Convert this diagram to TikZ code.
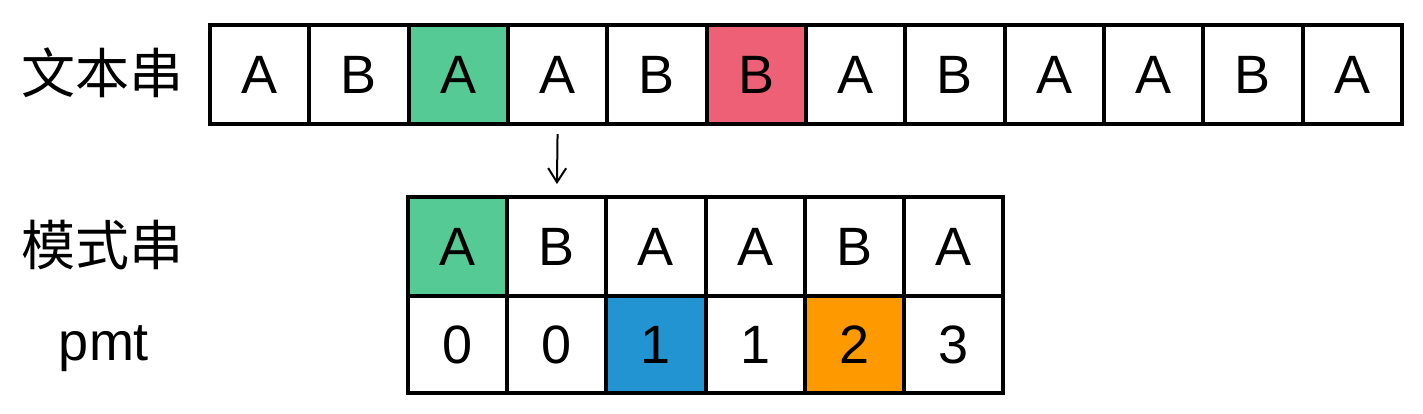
\documentclass[tikz,border=0pt]{standalone}
\usepackage{fontspec}
\setmainfont{Liberation Sans}
\newfontfamily\cjk{Noto Sans CJK SC}
\usetikzlibrary{arrows.meta}
\definecolor{cgreen}{RGB}{86,202,148}
\definecolor{cred}{RGB}{238,96,117}
\definecolor{cblue}{RGB}{34,148,210}
\definecolor{corange}{RGB}{255,153,0}
\tikzset{
  cell/.style={draw=black, line width=4pt, minimum width=99.3pt, minimum height=99pt,
    inner sep=0pt, anchor=north west, font=\fontsize{54}{60}\selectfont},
  lab/.style={inner sep=0pt, font=\fontsize{54}{60}\selectfont},
  conn/.style={line width=2pt, -{Straight Barb[length=14pt,width=18pt,line width=2pt]}},
}
\begin{document}
\begin{tikzpicture}[x=1pt,y=-1pt]
\useasboundingbox (0,0) rectangle (1423,413);
% text row
\foreach \c/\f [count=\i from 0] in {A/white,B/white,A/cgreen,A/white,B/white,B/cred,A/white,B/white,A/white,A/white,B/white,A/white}{
  \node[cell, fill=\f] (t\i) at ({208+99.33*\i},23) {\c};
}
% pattern row
\foreach \c/\f [count=\i from 0] in {A/cgreen,B/white,A/white,A/white,B/white,A/white}{
  \node[cell, fill=\f] (p\i) at ({406+99.17*\i},195) {\c};
}
% pmt row
\foreach \c/\f [count=\i from 0] in {0/white,0/white,1/cblue,1/white,2/corange,3/white}{
  \node[cell, minimum height=97pt, fill=\f] (m\i) at ({406+99.17*\i},294) {\c};
}
% labels
\node[lab] (l1) at (102,73) {\cjk 文本串};
\node[lab] (l2) at (102,245) {\cjk 模式串};
\node[lab, anchor=base] (l3) at (104,360) {pmt};
% arrow
\draw[conn, shorten <=8pt, shorten >=11pt] (t3.south) -- (p1.north);
\end{tikzpicture}
\end{document}
